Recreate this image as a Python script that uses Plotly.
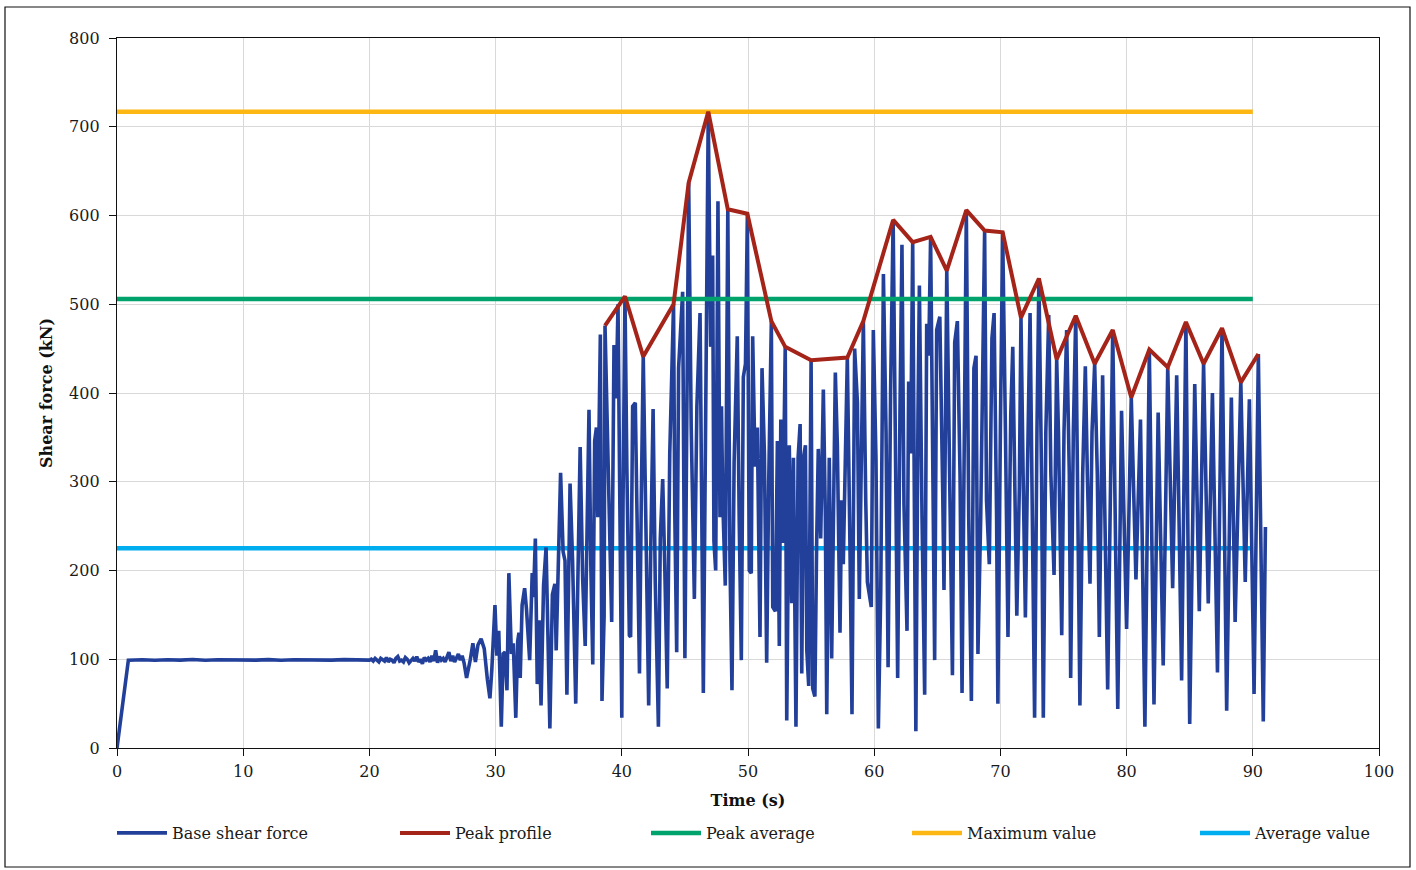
import plotly.graph_objects as go

# Base shear force time history: (time s, force kN) vertices
BASE_T = [
    0.0, 0.9, 2.0, 3.0, 4.0, 5.0, 6.0, 7.0, 8.0, 9.0, 10.0, 11.0, 12.0, 13.0, 14.0,
    15.0, 16.0, 17.0, 18.0, 19.0,
    20.0, 20.15, 20.3, 20.45, 20.6, 20.75, 20.9, 21.05, 21.2, 21.35,
    21.5, 21.65, 21.8, 21.95, 22.1, 22.25, 22.4, 22.55, 22.7, 22.85,
    23.0, 23.15, 23.3, 23.45, 23.6, 23.75, 23.9, 24.05, 24.2, 24.35,
    24.5, 24.65, 24.8, 24.95, 25.1, 25.25, 25.4, 25.55, 25.7, 25.85,
    26.0, 26.15, 26.3, 26.45, 26.6, 26.75, 26.9, 27.05, 27.2, 27.35, 27.5,
    27.7, 28.0, 28.2, 28.4,
    28.6, 28.85, 29.1, 29.35, 29.55, 29.7, 29.95, 30.1, 30.25, 30.45, 30.6, 30.75, 30.9,
    31.05, 31.25, 31.4, 31.6, 31.75, 31.85, 31.95, 32.1, 32.3, 32.45, 32.7, 32.9, 33.0,
    33.15, 33.3, 33.45, 33.6, 33.8, 34.0, 34.1, 34.3, 34.5, 34.7, 34.8, 34.95, 35.15,
    35.35, 35.5, 35.65, 35.9, 36.1, 36.35, 36.7, 36.9, 37.1, 37.25, 37.4, 37.55, 37.7,
    37.85, 37.99, 38.1, 38.3, 38.43, 38.6, 38.67, 38.95, 39.2, 39.38, 39.55, 39.7, 39.85,
    40.0, 40.1, 40.25, 40.4, 40.6, 40.7, 40.86, 41.07, 41.2, 41.4, 41.55, 41.7, 41.9,
    42.13, 42.3, 42.48, 42.65, 42.9, 43.05, 43.24, 43.4, 43.6, 43.8, 44.1, 44.2, 44.35,
    44.5, 44.82, 45.0, 45.15, 45.3, 45.5, 45.75, 45.95, 46.2, 46.46, 46.85, 47.04, 47.2,
    47.3, 47.44, 47.62, 47.78, 47.9, 48.0, 48.2, 48.4, 48.57, 48.73, 48.9, 49.15, 49.3,
    49.47, 49.63, 49.8, 49.95, 50.1, 50.26, 50.37, 50.56, 50.74, 50.95, 51.11, 51.3,
    51.48, 51.64, 51.85, 51.96, 52.17, 52.33, 52.48, 52.6, 52.75, 52.95, 53.07, 53.27,
    53.46, 53.6, 53.8, 53.97, 54.13, 54.26, 54.4, 54.55, 54.66, 54.81, 55.0, 55.13, 55.3,
    55.44, 55.57, 55.76, 55.97, 56.13, 56.24, 56.44, 56.63, 56.92, 57.08, 57.29, 57.42,
    57.55, 57.71, 57.87, 58.08, 58.24, 58.45, 58.67, 58.82, 58.98, 59.14, 59.33, 59.46,
    59.77, 59.93, 60.14, 60.33, 60.52, 60.73, 60.94, 61.1, 61.3, 61.5, 61.67, 61.86,
    62.04, 62.2, 62.36, 62.6, 62.73, 62.89, 63.05, 63.2, 63.3, 63.47, 63.58, 63.79, 64.0,
    64.16, 64.32, 64.47, 64.68, 64.79, 64.95, 65.2, 65.43, 65.53, 65.75, 65.95, 66.2,
    66.38, 66.59, 66.8, 66.96, 67.3, 67.49, 67.7, 67.9, 68.07, 68.22, 68.44, 68.75, 68.9,
    69.12, 69.33, 69.5, 69.7, 69.8, 70.0, 70.18, 70.4, 70.6, 70.82, 70.98, 71.13, 71.3,
    71.5, 71.63, 71.8, 71.98, 72.14, 72.35, 72.53, 72.71, 72.9, 73.05, 73.26, 73.4, 73.6,
    73.83, 74.0, 74.25, 74.46, 74.6, 74.86, 75.04, 75.25, 75.46, 75.57, 75.78, 75.97,
    76.1, 76.3, 76.52, 76.73, 76.89, 77.1, 77.26, 77.47, 77.68, 77.84, 78.1, 78.5, 78.9,
    79.3, 79.6, 80.0, 80.37, 80.74, 81.1, 81.45, 81.8, 82.17, 82.5, 82.9, 83.26, 83.65,
    83.97, 84.36, 84.7, 85.0, 85.4, 85.76, 86.1, 86.47, 86.8, 87.2, 87.56, 87.93, 88.3,
    88.6, 89.05, 89.4, 89.73, 90.1, 90.44, 90.83, 91.0,
]
BASE_F = [
    0, 99, 99.5, 98.8, 99.4, 99.0, 99.7, 98.9, 99.5, 99.2, 99.8, 99.0, 99.6, 98.9, 99.5,
    99.1, 99.7, 99.0, 99.6, 99.2,
    99, 100, 98, 101, 99, 97, 101, 100, 98, 102,
    97, 100, 99, 96, 101, 103, 98, 99, 97, 102,
    100, 96, 99, 101, 98, 103, 97, 100, 95, 102,
    99, 101, 97, 104, 98, 110, 96, 103, 99, 101,
    97, 102, 108, 98, 104, 97, 101, 106, 99, 104, 96,
    79, 100, 118, 97,
    116, 123, 112, 77, 56, 88, 161, 104, 132, 24, 106, 108, 65,
    197, 106, 118, 34, 120, 130, 79, 161, 180, 156, 99, 197, 170,
    236, 72, 144, 48, 183, 226, 156, 22, 173, 185, 110, 192, 310,
    221, 211, 60, 298, 211, 50, 339, 190, 115, 236, 381, 202, 94,
    346, 361, 260, 466, 53, 149, 476, 279, 142, 454, 394, 500, 300,
    34, 279, 509, 317, 127, 125, 385, 389, 260, 84, 288, 441, 260,
    48, 230, 382, 188, 24, 236, 303, 207, 67, 332, 500, 263, 108,
    428, 514, 101, 356, 637, 361, 168, 385, 490, 62, 717, 452, 555,
    233, 200, 616, 260, 385, 279, 183, 607, 212, 65, 322, 464, 260,
    99, 418, 433, 602, 200, 197, 464, 317, 361, 125, 428, 332,
    96, 298, 481, 159, 154, 346, 115, 370, 231, 452, 31, 341,
    163, 327, 24, 327, 365, 84, 327, 341, 110, 70, 437, 67, 58,
    231, 337, 236, 404, 260, 38, 327, 101, 423, 341, 130, 279,
    207, 313, 440, 226, 38, 450, 389, 168, 346, 481, 279, 187,
    159, 471, 327, 22, 178, 534, 356, 91, 404, 595, 356, 79,
    375, 567, 274, 132, 413, 332, 570, 279, 19, 375, 521, 260, 60,
    478, 442, 576, 260, 99, 471, 486, 288, 178, 538, 356, 82,
    457, 481, 308, 62, 606, 260, 53, 428, 442, 106, 260, 583, 279,
    207, 462, 490, 260, 50, 361, 581, 356, 125, 375, 452, 308, 149,
    293, 485, 308, 147, 308, 490, 260, 34, 361, 529, 308, 34, 356,
    488, 308, 195, 438, 356, 127, 356, 471, 308, 79, 356, 487,
    308, 48, 308, 430, 308, 185, 356, 433, 308, 125, 420, 66, 471,
    44, 380, 134, 395, 190, 370, 24, 449, 49, 378, 93, 429, 180,
    420, 76, 480, 27, 410, 154, 433, 163, 400, 85, 473, 42, 395,
    142, 412, 187, 393, 61, 444, 30, 249,
]

# Envelope through the successive response peaks
PEAK_T = [38.67, 40.25, 41.7, 44.1, 45.3, 46.85, 48.4, 49.95, 51.85, 52.95, 55.0,
          57.87, 59.14, 61.5, 63.05, 64.47, 65.75, 67.3, 68.75, 70.18, 71.63, 73.05,
          74.46, 75.97, 77.47, 78.9, 80.37, 81.8, 83.26, 84.7, 86.1, 87.56, 89.05, 90.44]
PEAK_F = [476, 509, 441, 500, 637, 717, 607, 602, 481, 452, 437,
          440, 481, 595, 570, 576, 538, 606, 583, 581, 485, 529,
          438, 487, 433, 471, 395, 449, 429, 480, 433, 473, 412, 444]

# Reference levels drawn over the analysed window
LEVEL_T = [0, 90]
PEAK_AVERAGE = 506
MAXIMUM_VALUE = 717
AVERAGE_VALUE = 225

X_TICKS = [0, 10, 20, 30, 40, 50, 60, 70, 80, 90, 100]
Y_TICKS = [0, 100, 200, 300, 400, 500, 600, 700, 800]

FONT = "DejaVu Serif"
BLUE = "#22409A"
RED = "#A52419"
GREEN = "#00A36C"
GOLD = "#FDB714"
SKY = "#00AEEF"

fig = go.Figure()
fig.add_trace(go.Scatter(x=LEVEL_T, y=[AVERAGE_VALUE] * 2, mode="lines", name="Average value",
                         line=dict(color=SKY, width=4.5), legend="legend5"))
fig.add_trace(go.Scatter(x=BASE_T, y=BASE_F, mode="lines", name="Base shear force",
                         line=dict(color=BLUE, width=3.6), legend="legend"))
fig.add_trace(go.Scatter(x=LEVEL_T, y=[PEAK_AVERAGE] * 2, mode="lines", name="Peak average",
                         line=dict(color=GREEN, width=4.5), legend="legend3"))
fig.add_trace(go.Scatter(x=LEVEL_T, y=[MAXIMUM_VALUE] * 2, mode="lines", name="Maximum value",
                         line=dict(color=GOLD, width=4.5), legend="legend4"))
fig.add_trace(go.Scatter(x=PEAK_T, y=PEAK_F, mode="lines", name="Peak profile",
                         line=dict(color=RED, width=4), legend="legend2"))

W, H = 1416, 870
L, R, T, B = 117, 37, 38, 122
pw, ph = W - L - R, H - T - B


def px_x(p):
    return (p - L) / pw


def px_y(p):
    return (H - B - p) / ph


legend_common = dict(orientation="h", xanchor="left", yanchor="middle",
                     font=dict(family=FONT, size=16, color="#1a1a1a"),
                     bgcolor="rgba(0,0,0,0)", borderwidth=0, itemwidth=50)
legend_x = [112, 395, 646, 907, 1195]
legends = {}
for i, lx in enumerate(legend_x):
    key = "legend" if i == 0 else f"legend{i + 1}"
    legends[key] = dict(legend_common, x=px_x(lx), y=px_y(833))

axis_common = dict(showline=True, linecolor="#111111", linewidth=1.3, mirror=True,
                   ticks="outside", ticklen=7, tickcolor="#111111", tickwidth=1.2,
                   showgrid=True, gridcolor="#d9d9d9", gridwidth=1, zeroline=False,
                   tickfont=dict(family=FONT, size=16, color="#1a1a1a"))

fig.update_layout(
    width=W, height=H,
    margin=dict(l=L, r=R, t=T, b=B),
    paper_bgcolor="white", plot_bgcolor="white",
    showlegend=True,
    xaxis=dict(axis_common, range=[0, 100], tickvals=X_TICKS, ticklabelstandoff=2,
               title=dict(text="<b>Time (s)</b>", font=dict(family=FONT, size=16, color="#111111"),
                          standoff=14)),
    yaxis=dict(axis_common, range=[0, 800], tickvals=Y_TICKS, ticklabelstandoff=6,
               title=dict(text="<b>Shear force (kN)</b>", font=dict(family=FONT, size=16, color="#111111"),
                          standoff=12)),
    shapes=[dict(type="rect", xref="paper", yref="paper",
                 x0=px_x(5), x1=px_x(1410), y0=px_y(867), y1=px_y(7),
                 line=dict(color="#111111", width=1.2), fillcolor="rgba(0,0,0,0)", layer="below")],
    **legends,
)

fig.write_html("out.html")
